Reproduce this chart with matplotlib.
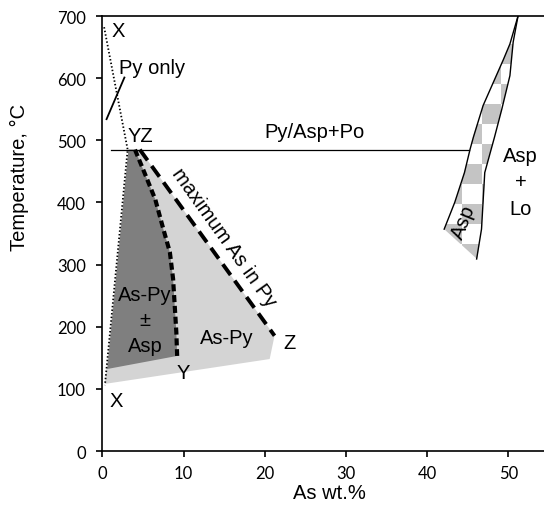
import numpy as np
import matplotlib.pyplot as plt
from matplotlib.colors import ListedColormap
from matplotlib.patches import Polygon

# =======================================================
# Data
# =======================================================
# X boundary (dotted), from the top X down to the YZ corner and back to the lower X
x_line_as = [0.2, 3.1, 0.3]
x_line_t = [682, 485, 106]

# Y boundary (short heavy dashes)
y_line_as = [4.0, 5.2, 6.5, 7.5, 8.3, 8.7, 8.9, 9.1, 9.2]
y_line_t = [485, 447, 405, 357, 320, 277, 234, 191, 153]

# Z boundary: maximum As in Py (long dashes)
z_line_as = [4.6, 21.2]
z_line_t = [485, 185.5]

# As-Py field (light grey)
aspy_as = [3.2, 4.6, 21.2, 20.6, 0.3]
aspy_t = [485, 485, 185.5, 148, 108]

# As-Py +/- Asp field (dark grey): top-left corner, Y curve, bottom-left corner
dark_left_as = [3.2]
dark_left_t = [485]
dark_bottom_as = [0.6]
dark_bottom_t = [132]

# Py/Asp+Po reaction line
po_as = [1.1, 45.1]
po_t = [485, 485]

# "Py only" tick line
pyonly_as = [0.5, 2.7]
pyonly_t = [534, 601]

# Asp field (checkered) boundaries
asp_left_as = [51.2, 50.2, 49.4, 46.9, 45.7, 45.3, 44.6, 43.4, 42.1]
asp_left_t = [700, 655, 630, 556, 505, 486, 448, 400, 357]
asp_right_as = [51.2, 50.6, 50.2, 49.2, 48.3, 47.1, 46.7, 46.1]
asp_right_t = [700, 658, 604, 550, 505, 448, 357, 309]

x_ticks = [0, 10, 20, 30, 40, 50]
y_ticks = [0, 100, 200, 300, 400, 500, 600, 700]

# =======================================================
# Style
# =======================================================
TXT = 'Liberation Sans'
TICKFONT = 'Lato'
LIGHT = '#d4d4d4'
DARK = '#7f7f7f'
CHECK = '#c4c4c4'

fig = plt.figure(figsize=(5.44, 5.06), dpi=100)
ax = fig.add_axes([0.1884, 0.1067, 0.8116, 0.8597])
ax.set_xlim(0, 54.4)
ax.set_ylim(0, 700)

# fields
ax.add_patch(Polygon(np.column_stack([aspy_as, aspy_t]), closed=True,
                     facecolor=LIGHT, edgecolor='none', zorder=1))
dark_as = dark_left_as + y_line_as + dark_bottom_as
dark_t = dark_left_t + y_line_t + dark_bottom_t
ax.add_patch(Polygon(np.column_stack([dark_as, dark_t]), closed=True,
                     facecolor=DARK, edgecolor='none', zorder=2))

# checkered Asp field
asp_poly = Polygon(np.column_stack([asp_left_as + asp_right_as[::-1],
                                    asp_left_t + asp_right_t[::-1]]),
                   closed=True, facecolor='white', edgecolor='none', zorder=1)
ax.add_patch(asp_poly)
cw, ch = 2.463, 32.19
xe = 46.70 + cw * np.arange(-3, 4)
ye = 526.2 + ch * np.arange(-8, 7)
kk, jj = np.meshgrid(np.arange(-3, 3), np.arange(-8, 6))
checker = ((kk + jj) % 2 == 0).astype(float)
mesh = ax.pcolormesh(xe, ye, checker, cmap=ListedColormap(['white', CHECK]),
                     shading='flat', zorder=1.5)
mesh.set_clip_path(asp_poly)

# lines
ax.plot(x_line_as, x_line_t, color='black', lw=1.3, ls=(0, (0.8, 1.2)), zorder=4)
ax.plot(y_line_as, y_line_t, color='black', lw=3.0, ls=(0, (1.7, 0.9)), zorder=4)
ax.plot(z_line_as, z_line_t, color='black', lw=2.8, ls=(0, (3.4, 1.8)), zorder=4)
ax.plot(po_as, po_t, color='black', lw=0.9, zorder=3)
ax.plot(pyonly_as, pyonly_t, color='black', lw=1.3, zorder=3)
ax.plot(asp_left_as, asp_left_t, color='black', lw=1.0, zorder=3)
ax.plot(asp_right_as, asp_right_t, color='black', lw=1.0, zorder=3)

# labels
fs = 14.5
kw = dict(fontsize=fs, family=TXT, zorder=5)
ax.text(1.95, 676, 'X', ha='center', va='center', **kw)
ax.text(1.66, 81, 'X', ha='center', va='center', **kw)
ax.text(10.0, 126, 'Y', ha='center', va='center', **kw)
ax.text(23.0, 175, 'Z', ha='center', va='center', **kw)
ax.text(4.62, 508, 'YZ', ha='center', va='center', **kw)
ax.text(6.06, 617, 'Py only', ha='center', va='center', **kw)
ax.text(20.0, 514, 'Py/Asp+Po', ha='left', va='center', **kw)
ax.text(14.96, 344, 'maximum As in Py', ha='center', va='center',
        rotation=-54.5, rotation_mode='anchor', **kw)
ax.text(5.23, 211, 'As-Py\n±\nAsp', ha='center', va='center',
        multialignment='center', linespacing=1.45, **kw)
ax.text(15.3, 183, 'As-Py', ha='center', va='center', **kw)
ax.text(51.5, 433, 'Asp\n+\nLo', ha='center', va='center',
        multialignment='center', linespacing=1.5, **kw)
ax.text(44.56, 370, 'Asp', ha='center', va='center',
        rotation=68, rotation_mode='anchor', **kw)

# axes
ax.spines['right'].set_visible(False)
for s in ['left', 'bottom', 'top']:
    ax.spines[s].set_linewidth(1.2)
    ax.spines[s].set_color('black')
ax.set_xticks(x_ticks)
ax.set_yticks(y_ticks)
ax.tick_params(direction='out', length=4, width=1.2,
               labelsize=12, top=False, right=False)
ax.tick_params(axis='y', pad=8)
ax.tick_params(axis='x', pad=6)
for lab in ax.get_xticklabels() + ax.get_yticklabels():
    lab.set_family(TICKFONT)

ax.set_xlabel('As wt.%', fontsize=fs, family=TXT)
ax.set_ylabel('Temperature, °C', fontsize=fs, family=TXT)
ax.xaxis.set_label_coords(0.513, -0.074)
ax.yaxis.set_label_coords(-0.187, 0.632)
ax.yaxis.label.set_va('center')

fig.savefig('out.png', dpi=100)
